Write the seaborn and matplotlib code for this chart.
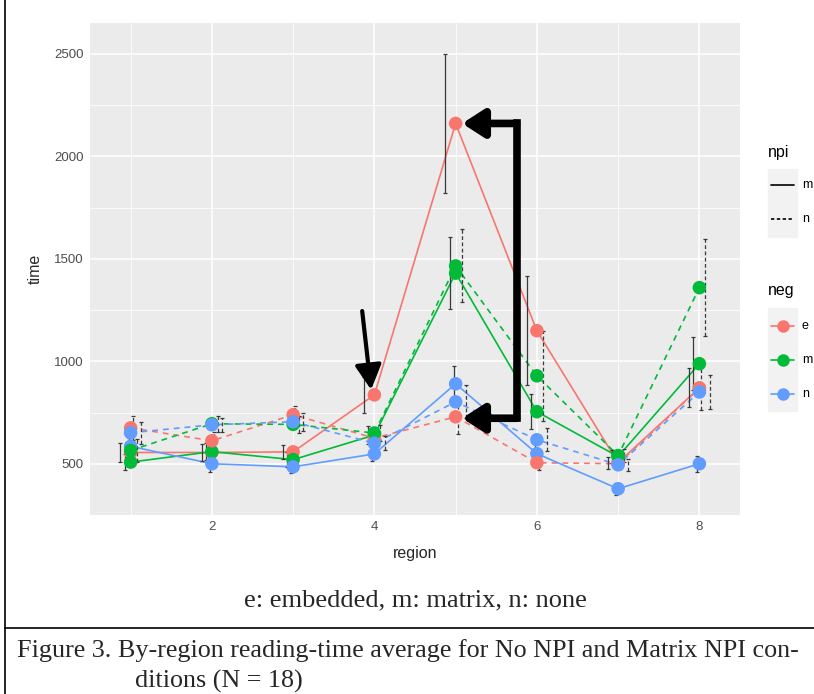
import matplotlib
matplotlib.use('Agg')
import matplotlib.pyplot as plt
from matplotlib.lines import Line2D
from matplotlib.patches import Rectangle
import pandas as pd
import seaborn as sns

regions = [1, 2, 3, 4, 5, 6, 7, 8]

# mean reading time per region, one list per neg x npi cell
e_m = [555, 555, 558, 836, 2160, 1149, 505, 870]
e_n = [675, 612, 739, 625, 729, 505, 500, 868]
m_m = [508, 559, 520, 640, 1430, 754, 535, 988]
m_n = [565, 695, 692, 650, 1465, 929, 540, 1359]
n_m = [585, 500, 485, 548, 890, 549, 378, 500]
n_n = [651, 690, 705, 600, 802, 617, 495, 850]

# error bar half widths
e_m_se = [45, 40, 35, 87, 340, 265, 30, 95]
e_n_se = [60, 45, 45, 40, 85, 35, 25, 105]
m_m_se = [40, 40, 35, 45, 175, 85, 30, 130]
m_n_se = [55, 40, 40, 40, 178, 220, 30, 235]
n_m_se = [40, 40, 30, 35, 85, 45, 30, 40]
n_n_se = [55, 35, 45, 35, 80, 55, 30, 85]

cells = [('e', 'm', e_m, e_m_se), ('m', 'm', m_m, m_m_se), ('n', 'm', n_m, n_m_se),
         ('e', 'n', e_n, e_n_se), ('m', 'n', m_n, m_n_se), ('n', 'n', n_n, n_n_se)]

rows = []
for neg, npi, means, ses in cells:
    for r, t, s in zip(regions, means, ses):
        rows.append({'region': r, 'time': t, 'se': s, 'neg': neg, 'npi': npi})
df = pd.DataFrame(rows)

neg_colors = {'e': '#F8766D', 'm': '#00BA38', 'n': '#619CFF'}
W, H = 814, 694

sns.set_style('white')
plt.rcParams['font.family'] = ['Liberation Sans', 'DejaVu Sans']

fig = plt.figure(figsize=(W / 100, H / 100), dpi=100)
ax = fig.add_axes([90 / W, 1 - 515 / H, 650 / W, 492 / H])
ax.set_facecolor('#EBEBEB')

# lines first, like geom_line
sns.lineplot(data=df, x='region', y='time', hue='neg', style='npi',
             palette=neg_colors, dashes={'m': '', 'n': (3.5, 3)},
             lw=1.2, legend=False, ax=ax, zorder=3)

# dodged error bars
for g, (neg, npi, means, ses) in enumerate(cells):
    off = -0.125 + 0.05 * g
    eb = ax.errorbar([r + off for r in regions], means, yerr=ses, fmt='none',
                     ecolor='#3A3A3A', elinewidth=0.9, capsize=1.5, capthick=0.9, zorder=4)
    if npi == 'n':
        eb[2][0].set_linestyle((0, (3, 2)))

# points on top
sns.scatterplot(data=df, x='region', y='time', hue='neg', palette=neg_colors,
                s=95, linewidth=0, legend=False, ax=ax, zorder=5)

ax.set_xlim(0.5, 8.5)
ax.set_ylim(250, 2650)
ax.set_xticks([2, 4, 6, 8])
ax.set_xticks([1, 3, 5, 7], minor=True)
ax.set_yticks([500, 1000, 1500, 2000, 2500])
ax.set_yticks([750, 1250, 1750, 2250], minor=True)
ax.grid(True, which='major', color='white', lw=1.1, zorder=0)
ax.grid(True, which='minor', color='white', lw=0.55, zorder=0)
ax.set_axisbelow(True)
for s in ax.spines.values():
    s.set_visible(False)
ax.tick_params(which='major', length=2.5, width=0.8, color='#333333',
               labelcolor='#4D4D4D', labelsize=9.5, pad=2)
ax.tick_params(which='minor', length=0)
ax.set_xlabel('region', fontsize=11.5)
ax.set_ylabel('time', fontsize=11.5)
ax.xaxis.set_label_coords(0.5, -0.064)
ax.yaxis.set_label_coords(-0.073, 0.5)

# annotation arrows
ax.annotate('', xy=(3.96, 861), xytext=(3.85, 1245),
            arrowprops=dict(arrowstyle='-|>,head_length=0.75,head_width=0.4',
                            mutation_scale=20, lw=3, color='black',
                            shrinkA=0, shrinkB=0), zorder=6)
ax.plot([5.75, 5.75], [2160, 722], color='black', lw=5.5,
        solid_capstyle='projecting', zorder=6)
for yv in [2160, 722]:
    ax.annotate('', xy=(5.08, yv), xytext=(5.75, yv),
                arrowprops=dict(arrowstyle='-|>,head_length=0.65,head_width=0.42',
                                mutation_scale=20, lw=5.5, color='black',
                                shrinkA=0, shrinkB=0), zorder=6)

# legends at the right edge
def fx(x):
    return x / W

def fy(y):
    return 1 - y / H

fig.text(fx(768), fy(152), 'npi', fontsize=11.5, va='center', color='black')
fig.patches.append(Rectangle((fx(768), fy(237)), fx(29), 68 / H,
                             transform=fig.transFigure, color='#F2F2F2', zorder=1))
for y, lab, ls in [(185, 'm', '-'), (219, 'n', (0, (2, 1.5)))]:
    fig.lines.append(Line2D([fx(771), fx(794)], [fy(y), fy(y)], transform=fig.transFigure,
                            color='black', lw=1.2, ls=ls))
    fig.text(fx(802), fy(y), lab, fontsize=9, va='center', color='black')

fig.text(fx(768), fy(290), 'neg', fontsize=11.5, va='center', color='black')
fig.patches.append(Rectangle((fx(768), fy(411)), fx(29), 103 / H,
                             transform=fig.transFigure, color='#F2F2F2', zorder=1))
for y, lab in [(326, 'e'), (360, 'm'), (394, 'n')]:
    c = neg_colors[lab]
    fig.lines.append(Line2D([fx(771), fx(794)], [fy(y), fy(y)], transform=fig.transFigure,
                            color=c, lw=1.2))
    fig.lines.append(Line2D([fx(782.5)], [fy(y)], transform=fig.transFigure,
                            color=c, marker='o', markersize=9, markeredgewidth=0, ls='none'))
    fig.text(fx(802), fy(y), lab, fontsize=9, va='center', color='black')

# captions
serif = ['Liberation Serif', 'DejaVu Serif']
fig.text(fx(415), fy(600), 'e: embedded, m: matrix, n: none', family=serif,
         fontsize=19, ha='center', va='center')
fig.text(fx(17), fy(651), 'Figure 3. By-region reading-time average for No NPI and Matrix NPI con-',
         family=serif, fontsize=18.8, ha='left', va='center')
fig.text(fx(135), fy(681), 'ditions (N = 18)', family=serif, fontsize=18.8, ha='left', va='center')

# frame lines of the figure box
for xs, ys in [([5, 5], [0, H]), ([5, W], [628, 628])]:
    fig.lines.append(Line2D([fx(v) for v in xs], [fy(v) for v in ys],
                            transform=fig.transFigure, color='black', lw=1.2))

fig.savefig('out.png', dpi=100)
